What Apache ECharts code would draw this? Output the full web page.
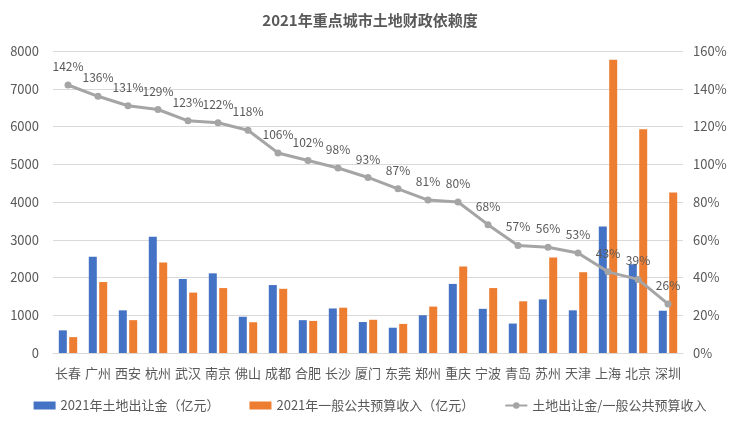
<!DOCTYPE html>
<html>
<head>
<meta charset="utf-8">
<script src="https://cdn.jsdelivr.net/npm/echarts@6/dist/echarts.min.js"></script>
<style>html,body{margin:0;padding:0;background:#fff;}#c{width:740px;height:421px;}</style>
</head>
<body>
<div id="c"></div>
<script>
var categories = ['长春','广州','西安','杭州','武汉','南京','佛山','成都','合肥','长沙','厦门','东莞','郑州','重庆','宁波','青岛','苏州','天津','上海','北京','深圳'];
var landSales = [600,2550,1130,3080,1960,2110,960,1800,870,1180,820,670,1000,1830,1170,780,1420,1130,3350,2350,1120];
var budgetIncome = [420,1880,870,2400,1600,1720,815,1700,850,1200,880,770,1230,2290,1720,1370,2530,2140,7770,5930,4250];
var ratio = [142,136,131,129,123,122,118,106,102,98,93,87,81,80,68,57,56,53,43,39,26];
var leftTicks = {min:0, max:8000, interval:1000};
var rightTicks = {min:0, max:160, interval:20};

var chart = echarts.init(document.getElementById('c'));
var txt = '#595959';
var font = '"Microsoft YaHei","Noto Sans CJK SC",sans-serif';
chart.setOption({
  animation:false,
  textStyle:{fontFamily:font},
  title:{text:'2021年重点城市土地财政依赖度', left:'center', top:8,
    textStyle:{fontSize:15, fontWeight:'bold', color:txt, fontFamily:font}},
  legend:{bottom:4, left:'center', itemWidth:22, itemHeight:8, itemGap:30,
    textStyle:{fontSize:13, color:txt, fontFamily:font},
    data:[{name:'2021年土地出让金（亿元）', icon:'rect'},{name:'2021年一般公共预算收入（亿元）', icon:'rect'},{name:'土地出让金/一般公共预算收入'}]},
  grid:{left:53, right:57, top:51, bottom:68},
  xAxis:{type:'category', data:categories,
    axisLine:{lineStyle:{color:'#D9D9D9'}}, axisTick:{show:false},
    axisLabel:{interval:0, color:txt, fontSize:13, margin:14, fontFamily:font}},
  yAxis:[
    {type:'value', min:leftTicks.min, max:leftTicks.max, interval:leftTicks.interval,
      axisLabel:{color:txt, fontSize:13, margin:14, formatter:function(v){return String(v);}},
      splitLine:{lineStyle:{color:'#D9D9D9'}},
      axisLine:{show:false}, axisTick:{show:false}},
    {type:'value', min:rightTicks.min, max:rightTicks.max, interval:rightTicks.interval,
      axisLabel:{color:txt, fontSize:13, formatter:'{value}%', margin:10}, splitLine:{show:false},
      axisLine:{show:false}, axisTick:{show:false}}
  ],
  series:[
    {name:'2021年土地出让金（亿元）', type:'bar', data:landSales, barWidth:8, barGap:'30%',
      itemStyle:{color:'#4472C4'}},
    {name:'2021年一般公共预算收入（亿元）', type:'bar', data:budgetIncome, barWidth:8,
      itemStyle:{color:'#ED7D31'}},
    {name:'土地出让金/一般公共预算收入', type:'line', yAxisIndex:1, data:ratio,
      symbol:'circle', symbolSize:7, lineStyle:{color:'#A5A5A5', width:3},
      itemStyle:{color:'#A5A5A5'},
      label:{show:true, position:'top', distance:9, color:txt, fontSize:12, formatter:'{c}%'}}
  ]
});
</script>
</body>
</html>
